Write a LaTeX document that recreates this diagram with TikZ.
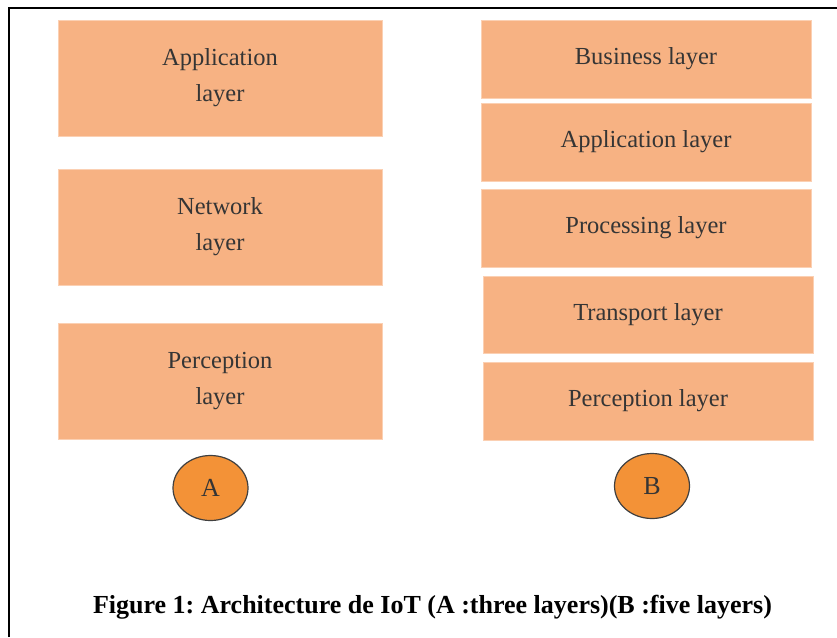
\documentclass[tikz,border=0pt]{standalone}
\usepackage{fontspec}
\setmainfont{Liberation Serif}
\frenchspacing
\usetikzlibrary{shapes.geometric}
\definecolor{layerfill}{HTML}{F7B283}
\definecolor{layeredge}{HTML}{FBD0B3}
\definecolor{txt}{HTML}{353535}
\definecolor{circfill}{HTML}{F39237}
\begin{document}
\begin{tikzpicture}[x=1pt,y=-1pt,
  layerbox/.style={draw=layeredge, line width=0.8pt, fill=layerfill, inner sep=0pt,
    align=center, text=txt, font=\fontsize{24.5}{36}\selectfont},
  tag/.style={ellipse, draw=black!75, line width=1.2pt, fill=circfill,
    minimum width=75pt, minimum height=65pt, inner sep=0pt, text=txt,
    font=\fontsize{26}{28}\selectfont},
  captionstyle/.style={font=\fontsize{26}{30}\selectfont\bfseries, inner sep=0pt}]
\useasboundingbox (0,0) rectangle (837,637);
\fill[white] (0,0) rectangle (837,637);
\draw[line width=2.4pt] (9,637) -- (9,8) -- (837,8);
% three-layer column
\node[layerbox, minimum width=324pt, minimum height=116pt] (a1) at (220,78) {Application\\layer};
\node[layerbox, minimum width=324pt, minimum height=116pt] (a2) at (220,227) {Network\\layer};
\node[layerbox, minimum width=324pt, minimum height=116pt] (a3) at (220,381) {Perception\\layer};
% five-layer column
\node[layerbox, minimum width=330pt, minimum height=78pt] (b1) at (646,59) {Business layer};
\node[layerbox, minimum width=330pt, minimum height=78pt] (b2) at (646,142) {Application layer};
\node[layerbox, minimum width=330pt, minimum height=78pt] (b3) at (646,228) {Processing layer};
\node[layerbox, minimum width=330pt, minimum height=77pt] (b4) at (648,314.5) {Transport layer};
\node[layerbox, minimum width=330pt, minimum height=78pt] (b5) at (648,401) {Perception layer};
% tags
\node[tag] (ta) at (210.5,488) {A};
\node[tag] (tb) at (652,486) {B};
% caption
\node[captionstyle, anchor=base] (cap) at (432.5,613) {Figure 1: Architecture de IoT (A :three layers)(B :five layers)};
\end{tikzpicture}
\end{document}
